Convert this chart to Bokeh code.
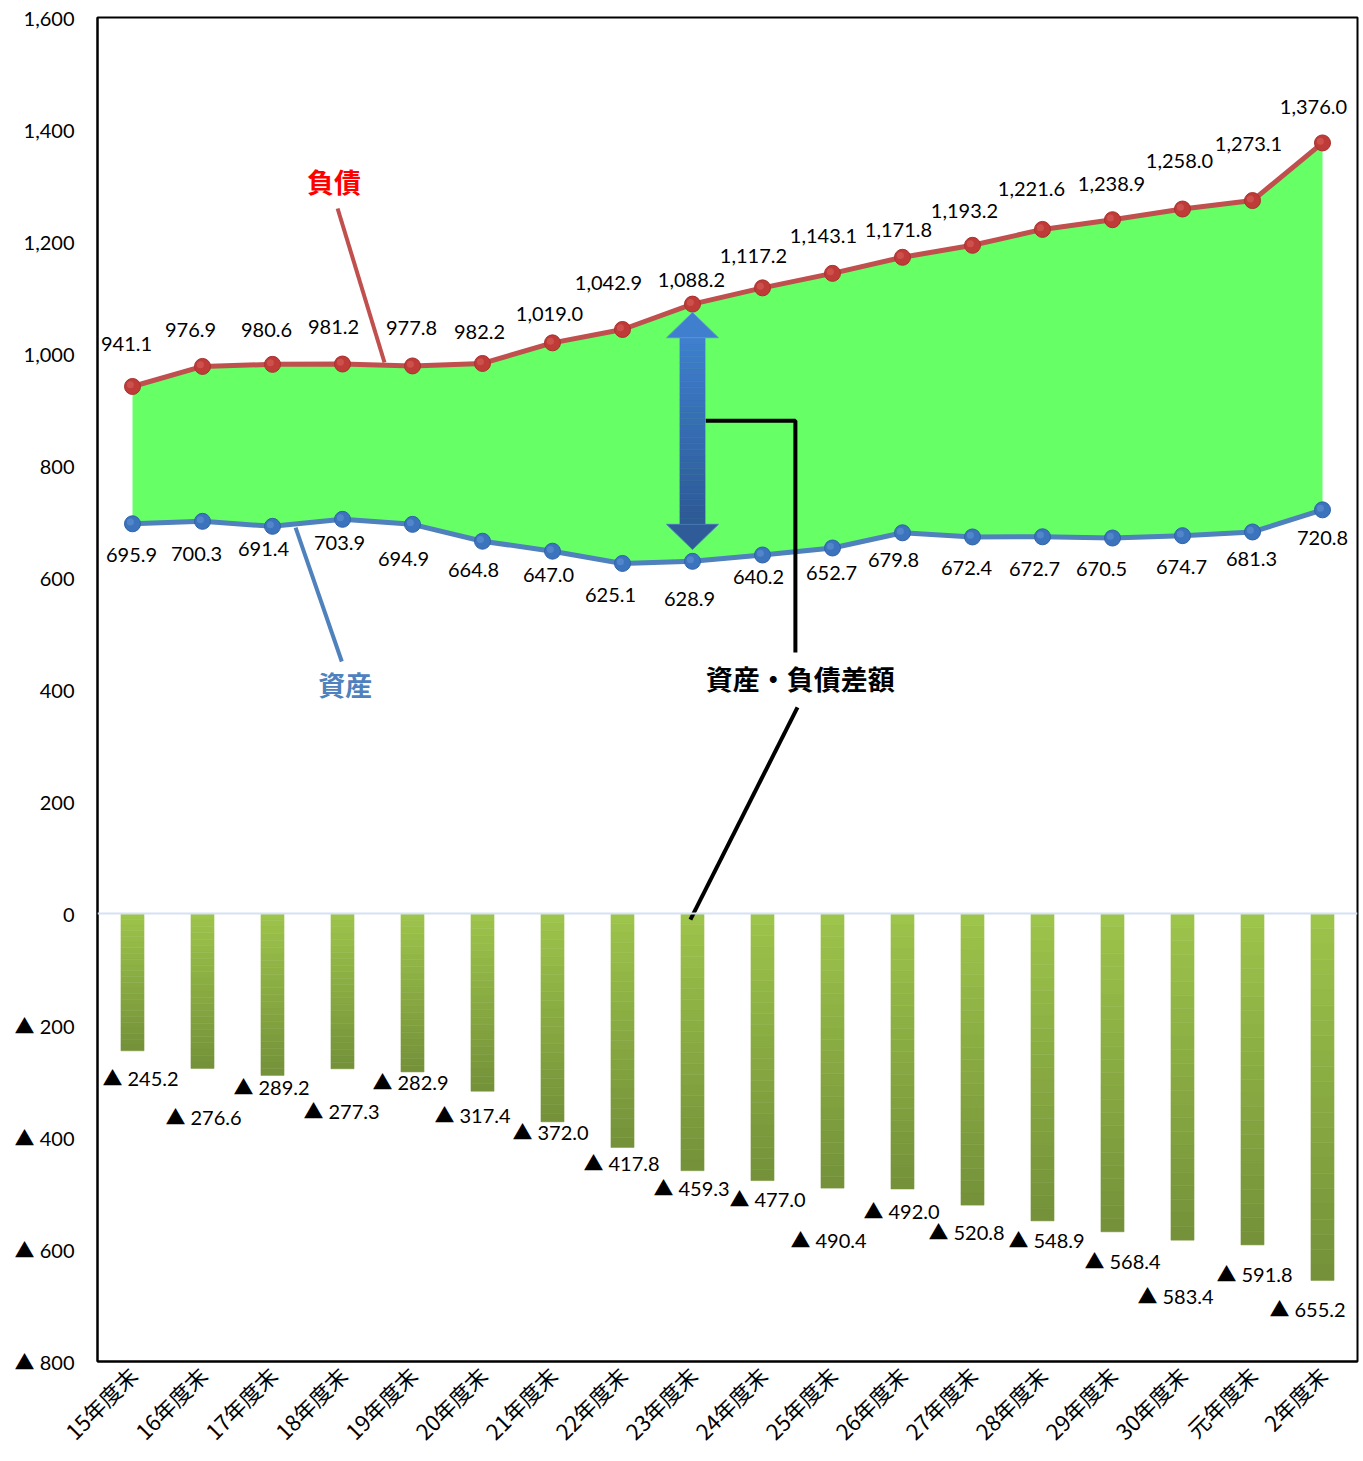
import numpy as np
from bokeh.plotting import figure
from bokeh.models import Range1d, FixedTicker, Span, ColumnDataSource
from bokeh.core.properties import value
from bokeh.embed import file_html
from bokeh.resources import INLINE

# fiscal year-end labels
categories = ["15年度末", "16年度末", "17年度末", "18年度末", "19年度末", "20年度末",
              "21年度末", "22年度末", "23年度末", "24年度末", "25年度末", "26年度末",
              "27年度末", "28年度末", "29年度末", "30年度末", "元年度末", "2年度末"]

# liabilities (負債)
liabilities = [941.1, 976.9, 980.6, 981.2, 977.8, 982.2, 1019.0, 1042.9, 1088.2,
               1117.2, 1143.1, 1171.8, 1193.2, 1221.6, 1238.9, 1258.0, 1273.1, 1376.0]

# assets (資産)
assets = [695.9, 700.3, 691.4, 703.9, 694.9, 664.8, 647.0, 625.1, 628.9,
          640.2, 652.7, 679.8, 672.4, 672.7, 670.5, 674.7, 681.3, 720.8]

# shortfall of assets against liabilities (資産・負債差額)
gap = [245.2, 276.6, 289.2, 277.3, 282.9, 317.4, 372.0, 417.8, 459.3,
       477.0, 490.4, 492.0, 520.8, 548.9, 568.4, 583.4, 591.8, 655.2]

y_ticks = [-800, -600, -400, -200, 0, 200, 400, 600, 800, 1000, 1200, 1400, 1600]

# label nudges in screen pixels (positive dy = downwards)
liab_dx = [-6, -12, -6, -9, -1, -3, -3, -14, -1, -9, -9, -4, -8, -11, -1, -3, -4, -9]
liab_dy = [-42, -36, -34, -37, -38, -31, -29, -46, -24, -32, -37, -27, -34, -40, -36, -48, -57, -36]
asset_dx = [-1, -6, -9, -3, -9, -9, -4, -12, -3, -4, -1, -9, -6, -8, -11, -1, -1, 0]
asset_dy = [31, 33, 23, 24, 35, 29, 24, 32, 38, 22, 25, 27, 31, 32, 31, 31, 27, 28]
gap_dx = [8, 1, -1, -1, -2, -10, -2, -1, -1, 5, -4, -1, -6, 4, 10, -7, 2, -15]
gap_dy = [27, 49, 12, 42, 10, 24, 10, 16, 17, 18, 52, 22, 27, 19, 29, 56, 29, 29]

# Lato for digits, CJK face picks up the full-width ▲
NUM_FONT = "Lato, 'Noto Sans CJK JP'"
JP_FONT = "Noto Sans CJK JP"

x = list(range(len(categories)))

p = figure(width=1363, height=1461, output_backend="svg", toolbar_location=None,
           x_range=Range1d(-0.5, len(categories) - 0.5), y_range=Range1d(-800, 1600),
           min_border_left=97, min_border_right=6, min_border_top=17, min_border_bottom=100)
p.background_fill_color = "white"
p.border_fill_color = "white"
p.outline_line_color = "black"
p.outline_line_width = 2
p.xgrid.visible = False
p.ygrid.visible = False

# axes
p.yaxis.ticker = FixedTicker(ticks=y_ticks)
p.yaxis.major_label_overrides = {t: (f"{t:,}" if t >= 0 else f"▲ {abs(t):,}") for t in y_ticks}
p.yaxis.major_tick_out = 0
p.yaxis.major_tick_in = 0
p.yaxis.minor_tick_line_color = None
p.yaxis.axis_line_color = "black"
p.yaxis.axis_line_width = 2
p.yaxis.major_label_standoff = 23
p.yaxis.major_label_text_font = NUM_FONT
p.yaxis.major_label_text_font_size = "20px"
p.yaxis.major_label_text_color = "black"

p.xaxis.ticker = FixedTicker(ticks=x)
p.xaxis.major_label_overrides = {i: c for i, c in enumerate(categories)}
p.xaxis.major_tick_out = 0
p.xaxis.major_tick_in = 0
p.xaxis.minor_tick_line_color = None
p.xaxis.axis_line_color = "black"
p.xaxis.axis_line_width = 2
p.xaxis.major_label_orientation = np.pi / 4
p.xaxis.major_label_standoff = 9
p.xaxis.major_label_text_font = JP_FONT
p.xaxis.major_label_text_font_size = "22px"
p.xaxis.major_label_text_color = "black"

# zero line
p.add_layout(Span(location=0, dimension="width", line_color="#D5E2F4", line_width=2))

# band between assets and liabilities
p.varea(x=x, y1=assets, y2=liabilities, fill_color="#66FF66")

# gap bars, shaded top (light) to bottom (dark)
n_slices = 24
c_top = np.array([157, 196, 75])
c_bot = np.array([117, 146, 58])
bx, btop, bbot, bcol = [], [], [], []
for i, g in enumerate(gap):
    for k in range(n_slices):
        t = k / (n_slices - 1)
        c = (c_top * (1 - t) + c_bot * t).astype(int)
        bx.append(i)
        btop.append(-g * k / n_slices)
        bbot.append(-g * (k + 1) / n_slices)
        bcol.append("#%02x%02x%02x" % tuple(c))
p.vbar(x=bx, top=btop, bottom=bbot, width=0.33, fill_color=bcol, line_color=bcol, line_width=0.5)

# liabilities and assets lines
p.line(x, liabilities, line_color="#C0504D", line_width=5)
p.scatter(x, liabilities, size=16, fill_color="#BE3B38", line_color="#A8302D", line_width=1)
p.scatter(np.array(x) - 0.03, np.array(liabilities) + 3, size=7, fill_color="#D45A57",
          line_color=None, fill_alpha=0.7)
p.line(x, assets, line_color="#4F81BD", line_width=5)
p.scatter(x, assets, size=16, fill_color="#3C73BD", line_color="#2F62A8", line_width=1)
p.scatter(np.array(x) - 0.03, np.array(assets) + 3, size=7, fill_color="#5A8ED2",
          line_color=None, fill_alpha=0.7)

# value labels
liab_src = ColumnDataSource(dict(x=x, y=liabilities, t=[f"{v:,.1f}" for v in liabilities],
                                 dx=liab_dx, dy=liab_dy))
p.text(x="x", y="y", text="t", x_offset="dx", y_offset="dy", source=liab_src,
       text_font=value(NUM_FONT), text_font_size="20px", text_color="black",
       text_align="center", text_baseline="middle")

asset_src = ColumnDataSource(dict(x=x, y=assets, t=[f"{v:,.1f}" for v in assets],
                                  dx=asset_dx, dy=asset_dy))
p.text(x="x", y="y", text="t", x_offset="dx", y_offset="dy", source=asset_src,
       text_font=value(NUM_FONT), text_font_size="20px", text_color="black",
       text_align="center", text_baseline="middle")

gap_src = ColumnDataSource(dict(x=x, y=[-g for g in gap], t=[f"▲ {g:,.1f}" for g in gap],
                                dx=gap_dx, dy=gap_dy))
p.text(x="x", y="y", text="t", x_offset="dx", y_offset="dy", source=gap_src,
       text_font=value(NUM_FONT), text_font_size="20px", text_color="black",
       text_align="center", text_baseline="middle")

# double-headed arrow spanning the gap at 23年度末
ai = 8
a_top = liabilities[ai] - 15
a_bot = assets[ai] + 21
head_len = 45
shaft_hw = 0.18
head_hw = 0.37
s_top = a_top - head_len
s_bot = a_bot + head_len
n_sh = 30
sc_top = np.array([63, 127, 206])
sc_bot = np.array([46, 90, 150])
sx_, st_, sb_, sc_ = [], [], [], []
for k in range(n_sh):
    t = k / (n_sh - 1)
    c = (sc_top * (1 - t) + sc_bot * t).astype(int)
    sx_.append(ai)
    st_.append(s_top - (s_top - s_bot) * k / n_sh)
    sb_.append(s_top - (s_top - s_bot) * (k + 1) / n_sh)
    sc_.append("#%02x%02x%02x" % tuple(c))
p.vbar(x=sx_, top=st_, bottom=sb_, width=2 * shaft_hw, fill_color=sc_, line_color=sc_,
       line_width=0.5)
p.patch([ai - head_hw, ai, ai + head_hw], [s_top, a_top, s_top],
        fill_color="#3F7FCE", line_color="#5A92D8", line_width=1)
p.patch([ai - head_hw, ai, ai + head_hw], [s_bot, a_bot, s_bot],
        fill_color="#2F5B98", line_color="#4A78B5", line_width=1)

# callouts
p.line([2.93, 3.6], [1259, 984], line_color="#C0504D", line_width=4)
p.text(x=[2.88], y=[1307], text=["負債"], text_font=value(JP_FONT), text_font_size="27px",
       text_font_style="bold", text_color="#FF0000", text_align="center", text_baseline="middle")

p.line([2.99, 2.33], [450, 689], line_color="#4F81BD", line_width=4)
p.text(x=[3.04], y=[409], text=["資産"], text_font=value(JP_FONT), text_font_size="27px",
       text_font_style="bold", text_color="#4F81BD", text_align="center", text_baseline="middle")

p.line([ai + 0.19, 9.47, 9.47], [880, 880, 466], line_color="black", line_width=4)
p.line([9.5, 7.97], [368, -11], line_color="black", line_width=4)
p.text(x=[9.54], y=[420], text=["資産・負債差額"], text_font=value(JP_FONT),
       text_font_size="27px", text_font_style="bold", text_color="black",
       text_align="center", text_baseline="middle")

open("out.html", "w").write(file_html(p, INLINE))
